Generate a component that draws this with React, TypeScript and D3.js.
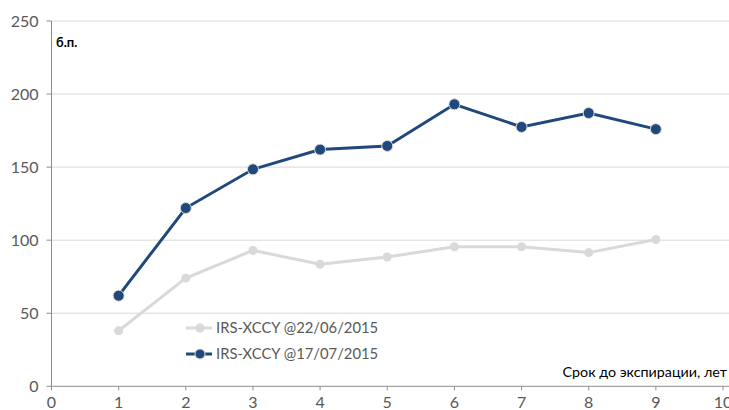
import React from "react";
import * as d3 from "d3";

const maturities = [1, 2, 3, 4, 5, 6, 7, 8, 9];
const seriesJune = [38, 74, 93, 83.5, 88.5, 95.5, 95.5, 91.5, 100.5];
const seriesJuly = [62, 122, 148.5, 162, 164.5, 193, 177.5, 187, 176];
const seriesNames = ["IRS-XCCY @22/06/2015", "IRS-XCCY @17/07/2015"];
const seriesColors = ["#d9d9d9", "#1f497d"];
const yTicks = [0, 50, 100, 150, 200, 250];
const xTicks = [0, 1, 2, 3, 4, 5, 6, 7, 8, 9, 10];
const yUnit = "б.п.";
const xTitle = "Срок до экспирации, лет";

export default function App() {
  const W = 729, H = 410;
  const x = d3.scaleLinear().domain([0, 10]).range([51.5, 723]);
  const y = d3.scaleLinear().domain([0, 250]).range([386.3, 21]);
  const font = "'Lato', 'Open Sans', sans-serif";
  const line = d3.line<[number, number]>().x(d => x(d[0])).y(d => y(d[1]));
  const series = [seriesJune, seriesJuly];
  return (
    <svg width={W} height={H} style={{ position: "absolute", left: 0, top: 0, background: "#fff" }}>
      {yTicks.filter(t => t > 0).map(t => (
        <line key={"g" + t} x1={x(0)} x2={W} y1={y(t)} y2={y(t)} stroke="#d9d9d9" strokeWidth={1} />
      ))}
      <line x1={x(0)} x2={x(0)} y1={y(250)} y2={y(0)} stroke="#8c8c8c" strokeWidth={1} />
      <line x1={x(0)} x2={W} y1={y(0)} y2={y(0)} stroke="#8c8c8c" strokeWidth={1} />
      {yTicks.map(t => (
        <g key={"y" + t}>
          <line x1={x(0) - 5} x2={x(0)} y1={y(t)} y2={y(t)} stroke="#8c8c8c" />
          <text x={x(0) - 13} y={y(t)} dy="0.35em" textAnchor="end" fontFamily={font} fontSize={16} fill="#595959">{t}</text>
        </g>
      ))}
      {xTicks.map(t => (
        <g key={"x" + t}>
          <line x1={x(t)} x2={x(t)} y1={y(0)} y2={y(0) + 4} stroke="#8c8c8c" />
          <text x={x(t)} y={408} textAnchor="middle" fontFamily={font} fontSize={16} fill="#595959">{t}</text>
        </g>
      ))}
      <text x={56} y={47} fontFamily={font} fontSize={13} fontWeight="bold" fill="#000">{yUnit}</text>
      <text x={727} y={377} textAnchor="end" fontFamily={font} fontSize={14.3} fill="#000">{xTitle}</text>
      {series.map((s, i) => {
        const pts: [number, number][] = maturities.map((m, j) => [m, s[j]]);
        return (
          <g key={"s" + i}>
            <path d={line(pts) || ""} fill="none" stroke={seriesColors[i]} strokeWidth={3} />
            {pts.map((p, j) => (
              <circle key={j} cx={x(p[0])} cy={y(p[1])} r={i === 1 ? 5.5 : 4.5} fill={seriesColors[i]} stroke="#d9d9d9" strokeWidth={i === 1 ? 1 : 0} />
            ))}
          </g>
        );
      })}
      {seriesNames.map((n, i) => {
        const ly = 328 + i * 26;
        return (
          <g key={"l" + i}>
            <line x1={186} x2={212} y1={ly} y2={ly} stroke={seriesColors[i]} strokeWidth={3} />
            <circle cx={200} cy={ly} r={i === 1 ? 5 : 4.5} fill={seriesColors[i]} stroke="#d9d9d9" strokeWidth={i === 1 ? 1 : 0} />
            <text x={216} y={ly} dy="0.35em" fontFamily={font} fontSize={14.8} fill="#595959">{n}</text>
          </g>
        );
      })}
    </svg>
  );
}
